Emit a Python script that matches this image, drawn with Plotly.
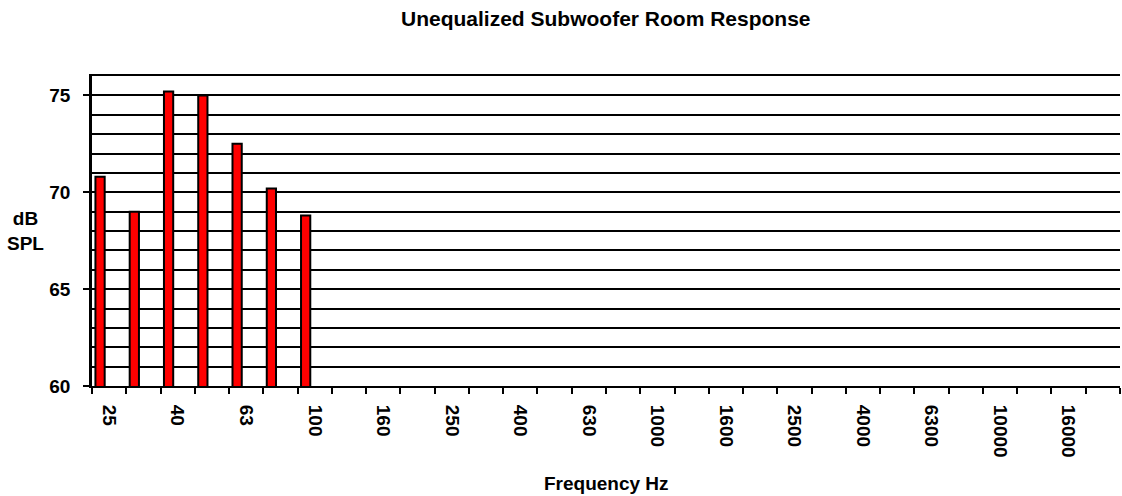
import plotly.graph_objects as go

# Third-octave band centre frequencies (categories)
bands = ["25", "31.5", "40", "50", "63", "80", "100", "125", "160", "200",
         "250", "315", "400", "500", "630", "800", "1000", "1250", "1600", "2000",
         "2500", "3150", "4000", "5000", "6300", "8000", "10000", "12500", "16000", "20000"]
# Measured SPL (dB) – only the low bands were measured
spl = [70.8, 69.0, 75.2, 75.0, 72.5, 70.2, 68.8] + [None] * 23
# Every other band is labelled
tick_text = [b if i % 2 == 0 else "" for i, b in enumerate(bands)]
y_ticks = [60, 65, 70, 75]

FONT = "Arial, Liberation Sans, sans-serif"

fig = go.Figure()
fig.add_trace(go.Bar(
    x=bands, y=spl,
    offset=-0.40, width=0.27,
    marker=dict(color="#FF0000", line=dict(color="black", width=2)),
    hoverinfo="x+y",
))

fig.update_layout(
    width=1122, height=496,
    margin=dict(l=92, r=2, t=76, b=110, autoexpand=False),
    paper_bgcolor="white", plot_bgcolor="white",
    showlegend=False,
    font=dict(family=FONT, color="black"),
    annotations=[
        dict(text="<b>Unequalized Subwoofer Room Response</b>", xref="paper", yref="paper",
             x=0.5, y=1, yshift=58, xanchor="center", yanchor="middle", showarrow=False,
             font=dict(family=FONT, size=21, color="black")),
        dict(text="<b>Frequency Hz</b>", xref="paper", yref="paper",
             x=0.5, y=0, yshift=-97, xanchor="center", yanchor="middle", showarrow=False,
             font=dict(family=FONT, size=19, color="black")),
        dict(text="<b>dB<br>SPL</b>", xref="paper", yref="paper",
             x=0, xshift=-67, y=0.5, xanchor="center", yanchor="middle", showarrow=False,
             font=dict(family=FONT, size=19, color="black")),
    ],
)

fig.update_xaxes(
    type="category", categoryorder="array", categoryarray=bands,
    tickvals=bands, ticktext=[f"<b>{t}</b>" if t else "" for t in tick_text], tickangle=90,
    tickson="boundaries", ticks="outside", ticklen=6, tickwidth=2, tickcolor="black",
    ticklabelstandoff=13,
    showgrid=False, showline=True, linecolor="black", linewidth=2, mirror=True,
    tickfont=dict(family=FONT, size=19, color="black"),
    range=[-0.5, 29.5], automargin=False,
)
fig.update_yaxes(
    range=[60, 76], tickvals=y_ticks, ticktext=[f"<b>{v}</b>" for v in y_ticks],
    ticks="outside", ticklen=6, tickwidth=2, tickcolor="black",
    ticklabelstandoff=9,
    showline=True, linecolor="black", linewidth=2.5,
    showgrid=True, gridcolor="black", gridwidth=2,
    minor=dict(dtick=1, showgrid=True, gridcolor="black", gridwidth=2, ticks=""),
    tickfont=dict(family=FONT, size=19, color="black"),
    zeroline=False, automargin=False,
)

fig.write_html("out.html", config={"displayModeBar": False},
               post_script="document.body.style.margin='0';")
